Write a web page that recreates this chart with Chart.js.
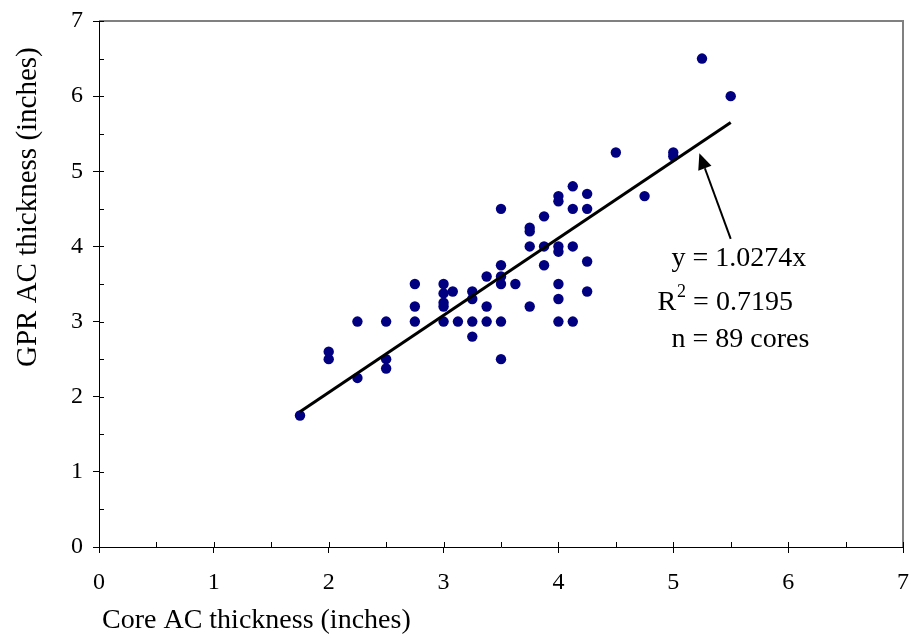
<!DOCTYPE html>
<html>
<head>
<meta charset="utf-8">
<script src="https://cdn.jsdelivr.net/npm/chart.js@4/dist/chart.umd.min.js"></script>
<style>
  html, body { margin: 0; padding: 0; background: #ffffff; }
  #wrap { width: 911px; height: 642px; }
</style>
</head>
<body>
<div id="wrap"><canvas id="c" width="911" height="642"></canvas></div>
<script>
// ---- data ----
const coreX = [1.75, 2.0, 2.0, 2.25, 2.25, 2.5, 2.5, 2.5, 2.75, 2.75, 2.75,
  3.0, 3.0, 3.0, 3.0, 3.0, 3.08, 3.125, 3.25, 3.25, 3.25, 3.25,
  3.375, 3.375, 3.375, 3.5, 3.5, 3.5, 3.5, 3.5, 3.5, 3.625,
  3.75, 3.75, 3.75, 3.75, 3.875, 3.875, 3.875,
  4.0, 4.0, 4.0, 4.0, 4.0, 4.0, 4.0, 4.125, 4.125, 4.125, 4.125,
  4.25, 4.25, 4.25, 4.25, 4.5, 4.75, 5.0, 5.0, 5.25, 5.5];
const gprY = [1.75, 2.6, 2.5, 3.0, 2.25, 3.0, 2.5, 2.375, 3.5, 3.2, 3.0,
  3.5, 3.375, 3.25, 3.2, 3.0, 3.4, 3.0, 3.4, 3.3, 3.0, 2.8,
  3.6, 3.2, 3.0, 4.5, 3.75, 3.6, 3.5, 3.0, 2.5, 3.5,
  4.25, 4.2, 4.0, 3.2, 4.4, 4.0, 3.75,
  4.67, 4.6, 4.0, 3.93, 3.5, 3.3, 3.0, 4.8, 4.5, 4.0, 3.0,
  4.7, 4.5, 3.8, 3.4, 5.25, 4.67, 5.25, 5.2, 6.5, 6.0];
const trendX = [1.75, 5.5];
const trendY = [1.80, 5.65];
const xTicks = [0, 1, 2, 3, 4, 5, 6, 7];
const yTicks = [0, 1, 2, 3, 4, 5, 6, 7];
const xTitle = "Core AC thickness (inches)";
const yTitle = "GPR AC thickness (inches)";
const eqText = "y = 1.0274x";
const r2Label = "R";
const r2Sup = "2";
const r2Value = " = 0.7195";
const nText = "n = 89 cores";
// arrow in data units: [tail, tip]
const arrowX = [5.50, 5.227];
const arrowY = [4.10, 5.24];

const serif = '"Liberation Serif", "Times New Roman", Times, serif';
Chart.defaults.font.family = serif;
Chart.defaults.color = '#000000';

const scatterPts = coreX.map((x, i) => ({ x: x, y: gprY[i] }));
const trendPts = trendX.map((x, i) => ({ x: x, y: trendY[i] }));

const decor = {
  id: 'decor',
  afterDraw(chart) {
    const ctx = chart.ctx;
    const xs = chart.scales.x, ys = chart.scales.y;
    const a = chart.chartArea;
    ctx.save();
    // gray top and right border
    ctx.strokeStyle = '#808080';
    ctx.lineWidth = 2;
    ctx.beginPath();
    ctx.moveTo(a.left, a.top);
    ctx.lineTo(a.right, a.top);
    ctx.lineTo(a.right, a.bottom);
    ctx.stroke();
    // inward tick parts (major + minor)
    ctx.strokeStyle = '#000000';
    ctx.lineWidth = 1;
    ctx.beginPath();
    for (let v = 0; v <= 7; v += 0.5) {
      const px = Math.round(xs.getPixelForValue(v)) + 0.5;
      ctx.moveTo(px, a.bottom);
      ctx.lineTo(px, a.bottom - 5);
      const py = Math.round(ys.getPixelForValue(v)) + 0.5;
      ctx.moveTo(a.left, py);
      ctx.lineTo(a.left + 5, py);
    }
    ctx.stroke();
    // arrow
    const tx = xs.getPixelForValue(arrowX[0]), ty = ys.getPixelForValue(arrowY[0]);
    const hx = xs.getPixelForValue(arrowX[1]), hy = ys.getPixelForValue(arrowY[1]);
    const ang = Math.atan2(hy - ty, hx - tx);
    const headLen = 16, headW = 7;
    const bx = hx - headLen * Math.cos(ang), by = hy - headLen * Math.sin(ang);
    ctx.strokeStyle = '#000000';
    ctx.lineWidth = 2;
    ctx.beginPath();
    ctx.moveTo(tx, ty);
    ctx.lineTo(bx, by);
    ctx.stroke();
    ctx.fillStyle = '#000000';
    ctx.beginPath();
    ctx.moveTo(hx, hy);
    ctx.lineTo(bx + headW * Math.sin(ang), by - headW * Math.cos(ang));
    ctx.lineTo(bx - headW * Math.sin(ang), by + headW * Math.cos(ang));
    ctx.closePath();
    ctx.fill();
    // annotation text
    ctx.fillStyle = '#000000';
    ctx.textAlign = 'left';
    ctx.textBaseline = 'alphabetic';
    ctx.font = '28px ' + serif;
    ctx.fillText(eqText, xs.getPixelForValue(4.984), ys.getPixelForValue(3.738));
    let rx = xs.getPixelForValue(4.862);
    const ry = ys.getPixelForValue(3.152);
    ctx.fillText(r2Label, rx, ry);
    rx += ctx.measureText(r2Label).width + 1;
    ctx.font = '18px ' + serif;
    ctx.fillText(r2Sup, rx, ry - 13);
    rx += ctx.measureText(r2Sup).width;
    ctx.font = '28px ' + serif;
    ctx.fillText(r2Value, rx, ry);
    ctx.fillText(nText, xs.getPixelForValue(4.984), ys.getPixelForValue(2.659));
    // axis titles
    ctx.font = '28px ' + serif;
    ctx.fillText(xTitle, 102, 628);
    ctx.save();
    ctx.translate(36, 367);
    ctx.rotate(-Math.PI / 2);
    ctx.font = '29px ' + serif;
    ctx.fillText(yTitle, 0, 0);
    ctx.restore();
    ctx.restore();
  }
};

new Chart(document.getElementById('c'), {
  type: 'scatter',
  data: {
    datasets: [
      {
        label: 'Trend',
        type: 'line',
        data: trendPts,
        borderColor: '#000000',
        borderWidth: 3,
        pointRadius: 0,
        fill: false,
        showLine: true,
        order: 0
      },
      {
        label: 'Cores',
        data: scatterPts,
        backgroundColor: '#000080',
        borderColor: '#000080',
        borderWidth: 0,
        pointRadius: 5.2,
        order: 1
      }
    ]
  },
  options: {
    responsive: false,
    animation: false,
    events: [],
    layout: { padding: { left: 0, right: 8, top: 21, bottom: 0 } },
    plugins: { legend: { display: false }, tooltip: { enabled: false } },
    scales: {
      x: {
        type: 'linear',
        min: 0, max: 7,
        afterBuildTicks(s) { s.ticks = xTicks.map(v => ({ value: v })); },
        afterFit(s) { s.height = 95; s.paddingLeft = 0; s.paddingRight = 0; },
        ticks: { stepSize: 1, padding: 15, color: '#000', font: { size: 24, family: serif }, maxRotation: 0 },
        grid: { drawOnChartArea: false, drawTicks: true, tickLength: 6, color: '#000000', lineWidth: 1 },
        border: { display: true, color: '#000000', width: 1 },
        title: { display: false }
      },
      y: {
        type: 'linear',
        min: 0, max: 7,
        afterBuildTicks(s) { s.ticks = yTicks.map(v => ({ value: v })); },
        afterFit(s) { s.width = 99; s.paddingTop = 0; s.paddingBottom = 0; },
        ticks: { stepSize: 1, padding: 10, color: '#000', font: { size: 24, family: serif } },
        grid: { drawOnChartArea: false, drawTicks: true, tickLength: 6, color: '#000000', lineWidth: 1 },
        border: { display: true, color: '#000000', width: 1 },
        title: { display: false }
      }
    }
  },
  plugins: [decor]
});
</script>
</body>
</html>
